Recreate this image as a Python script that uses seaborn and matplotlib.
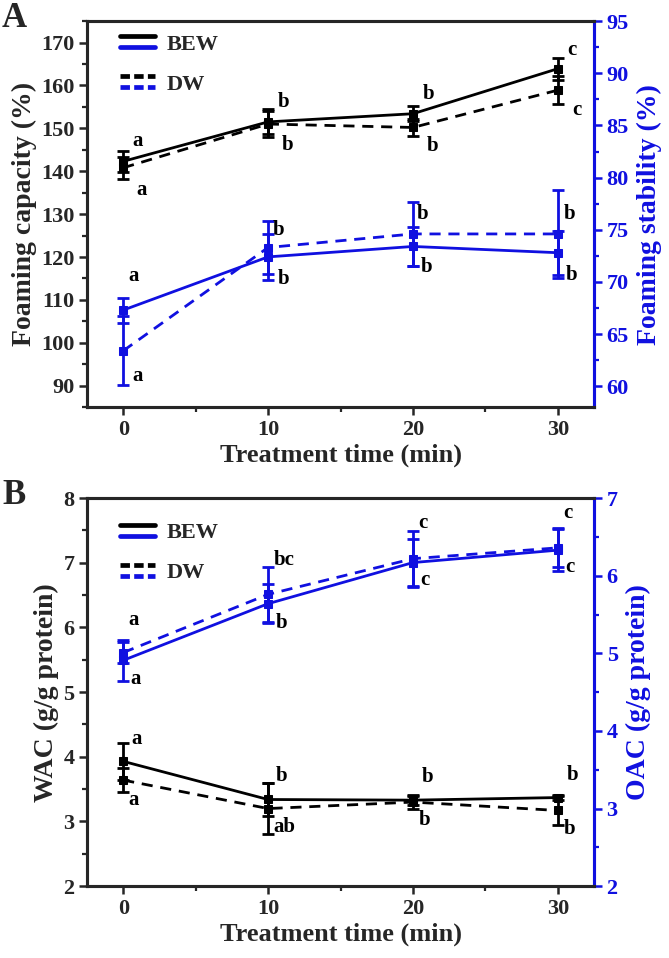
import numpy as np
import pandas as pd
import seaborn as sns
import matplotlib.pyplot as plt
from matplotlib.lines import Line2D
from matplotlib.legend_handler import HandlerBase
from matplotlib.ticker import MultipleLocator

# treatment time (min)
t = [0, 10, 20, 30]

# panel A - foaming capacity (left axis), foaming stability (right axis)
fc_bew = [142.3, 151.5, 153.4, 163.9]
fc_bew_err = [2.4, 2.9, 1.8, 2.6]
fc_dw = [140.8, 151.0, 150.2, 158.9]
fc_dw_err = [2.5, 3.0, 2.0, 3.2]
fs_bew = [67.3, 72.4, 73.4, 72.8]
fs_bew_err = [1.2, 2.2, 1.9, 2.1]
fs_dw = [63.4, 73.3, 74.6, 74.6]
fs_dw_err = [3.3, 2.5, 3.1, 4.2]

# panel B - WAC (left axis), OAC (right axis)
wac_bew = [3.93, 3.34, 3.33, 3.37]
wac_bew_err = [0.29, 0.25, 0.08, 0.04]
wac_dw = [3.64, 3.20, 3.30, 3.17]
wac_dw_err = [0.18, 0.39, 0.10, 0.23]
oac_bew = [4.91, 5.64, 6.17, 6.33]
oac_bew_err = [0.26, 0.25, 0.30, 0.27]
oac_dw = [5.01, 5.76, 6.22, 6.36]
oac_dw_err = [0.14, 0.35, 0.36, 0.25]

# significance letters
fc_bew_let = ["a", "b", "b", "c"]
fc_dw_let = ["a", "b", "b", "c"]
fs_bew_let = ["a", "b", "b", "b"]
fs_dw_let = ["a", "b", "b", "b"]
wac_bew_let = ["a", "b", "b", "b"]
wac_dw_let = ["a", "ab", "b", "b"]
oac_bew_let = ["a", "b", "c", "c"]
oac_dw_let = ["a", "bc", "c", "c"]

sns.set_style("ticks")
plt.rcParams["font.family"] = ["Liberation Serif", "DejaVu Serif"]
plt.rcParams["font.weight"] = "bold"
plt.rcParams["axes.labelweight"] = "bold"

BLUE = "#1010e0"
DASH = (4, 2.8)


class StackHandler(HandlerBase):
    # legend key: black line above blue line
    def create_artists(self, legend, orig_handle, xdescent, ydescent,
                       width, height, fontsize, trans):
        ls = orig_handle.get_linestyle()
        arts = []
        for frac, c in [(0.85, "black"), (0.2, BLUE)]:
            y = -ydescent + height * frac
            ln = Line2D([-xdescent, -xdescent + width], [y, y], color=c,
                        linestyle=ls, lw=3.4, transform=trans)
            if ls != "-":
                ln.set_dashes((2.0, 0.9))
            arts.append(ln)
        return arts


def draw(ax, bew, bew_err, dw, dw_err, color):
    df = pd.DataFrame({"time": t * 2, "val": bew + dw,
                       "water": ["BEW"] * 4 + ["DW"] * 4})
    sns.lineplot(data=df, x="time", y="val", style="water",
                 dashes={"BEW": "", "DW": DASH},
                 markers={"BEW": "s", "DW": "s"}, color=color,
                 markersize=6, markeredgecolor=color, lw=2.0,
                 legend=False, ax=ax)
    ax.errorbar(t, bew, yerr=bew_err, fmt="none", ecolor=color,
                elinewidth=2.0, capsize=4, capthick=2.0)
    ax.errorbar(t, dw, yerr=dw_err, fmt="none", ecolor=color,
                elinewidth=2.0, capsize=4, capthick=2.0)


def letters(ax, vals, labs, offs, color="black"):
    for x, v, s, (dx, dy) in zip(t, vals, labs, offs):
        ax.annotate(s, (x, v), xytext=(dx, dy), textcoords="offset pixels",
                    ha="center", va="center", fontsize=15,
                    fontweight="bold", color=color)


def style(ax, ax2, ylab, ylab2, ylim, ylim2, maj, mnr, maj2, mnr2, leg_y):
    ax.set_xlim(-2.5, 32.5)
    ax.set_ylim(*ylim)
    ax2.set_ylim(*ylim2)
    ax.xaxis.set_major_locator(MultipleLocator(10))
    ax.xaxis.set_minor_locator(MultipleLocator(5))
    ax.yaxis.set_major_locator(MultipleLocator(maj))
    ax.yaxis.set_minor_locator(MultipleLocator(mnr))
    ax2.yaxis.set_major_locator(MultipleLocator(maj2))
    ax2.yaxis.set_minor_locator(MultipleLocator(mnr2))
    ax.set_xlabel("Treatment time (min)", fontsize=19, labelpad=3)
    ax.set_ylabel(ylab, fontsize=20, labelpad=3)
    ax2.set_ylabel(ylab2, fontsize=20, color=BLUE, labelpad=6)
    for a in (ax, ax2):
        for sp in a.spines.values():
            sp.set_linewidth(2.2)
            sp.set_visible(True)
    ax2.spines["right"].set_color(BLUE)
    ax.tick_params(axis="both", which="major", direction="out", length=6,
                   width=1.8, labelsize=16, top=False, right=False, pad=3)
    ax.tick_params(axis="both", which="minor", direction="out", length=3.5,
                   width=1.6, top=False, right=False)
    ax2.tick_params(axis="y", which="major", direction="out", length=6,
                    width=1.8, labelsize=16, colors=BLUE, pad=3)
    ax2.tick_params(axis="y", which="minor", direction="out", length=3.5,
                    width=1.6, colors=BLUE)
    for lab in ax.get_xticklabels() + ax.get_yticklabels() + ax2.get_yticklabels():
        lab.set_fontweight("bold")
    h1 = Line2D([], [], linestyle="-")
    h2 = Line2D([], [], linestyle="--")
    ax.legend([h1, h2], ["BEW", "DW"], loc="upper left",
              handler_map={h1: StackHandler(), h2: StackHandler()},
              frameon=False, fontsize=16, handlelength=1.6, handleheight=0.8,
              labelspacing=0.85, handletextpad=0.5,
              bbox_to_anchor=(0.025, leg_y))


fig = plt.figure(figsize=(6.69, 9.58), dpi=100)

# panel A
axA = fig.add_axes([0.130, 0.575, 0.758, 0.403])
axA2 = axA.twinx()
draw(axA, fc_bew, fc_bew_err, fc_dw, fc_dw_err, "black")
draw(axA2, fs_bew, fs_bew_err, fs_dw, fs_dw_err, BLUE)
letters(axA, fc_bew, fc_bew_let, [(14, 20), (15, 20), (16, 20), (14, 19)])
letters(axA, fc_dw, fc_dw_let, [(18, -22), (19, -21), (20, -19), (19, -20)])
letters(axA2, fs_bew, fs_bew_let, [(10, 34), (15, -22), (14, -21), (14, -22)])
letters(axA2, fs_dw, fs_dw_let, [(14, -25), (10, 18), (10, 20), (12, 20)])
style(axA, axA2, "Foaming capacity (%)", "Foaming stability (%)",
      (85, 175), (58, 95), 10, 5, 5, 2.5, 1.02)

# panel B
axB = fig.add_axes([0.130, 0.075, 0.758, 0.405])
axB2 = axB.twinx()
draw(axB, wac_bew, wac_bew_err, wac_dw, wac_dw_err, "black")
draw(axB2, oac_bew, oac_bew_err, oac_dw, oac_dw_err, BLUE)
letters(axB, wac_bew, wac_bew_let, [(13, 22), (13, 23), (15, 23), (15, 23)])
letters(axB, wac_dw, wac_dw_let, [(10, -20), (16, -18), (12, -18), (12, -19)])
letters(axB2, oac_bew, oac_bew_let, [(12, -19), (13, -19), (12, -17), (12, -17)])
letters(axB2, oac_dw, oac_dw_let, [(10, 33), (16, 34), (10, 36), (10, 35)])
style(axB, axB2, "WAC (g/g protein)", "OAC (g/g protein)",
      (2, 8), (2, 7), 1, 0.5, 1, 0.5, 0.99)

fig.text(0.003, 0.998, "A", fontsize=25, fontweight="bold", va="top")
fig.text(0.003, 0.500, "B", fontsize=25, fontweight="bold", va="top")

fig.savefig("out.png", dpi=100)
